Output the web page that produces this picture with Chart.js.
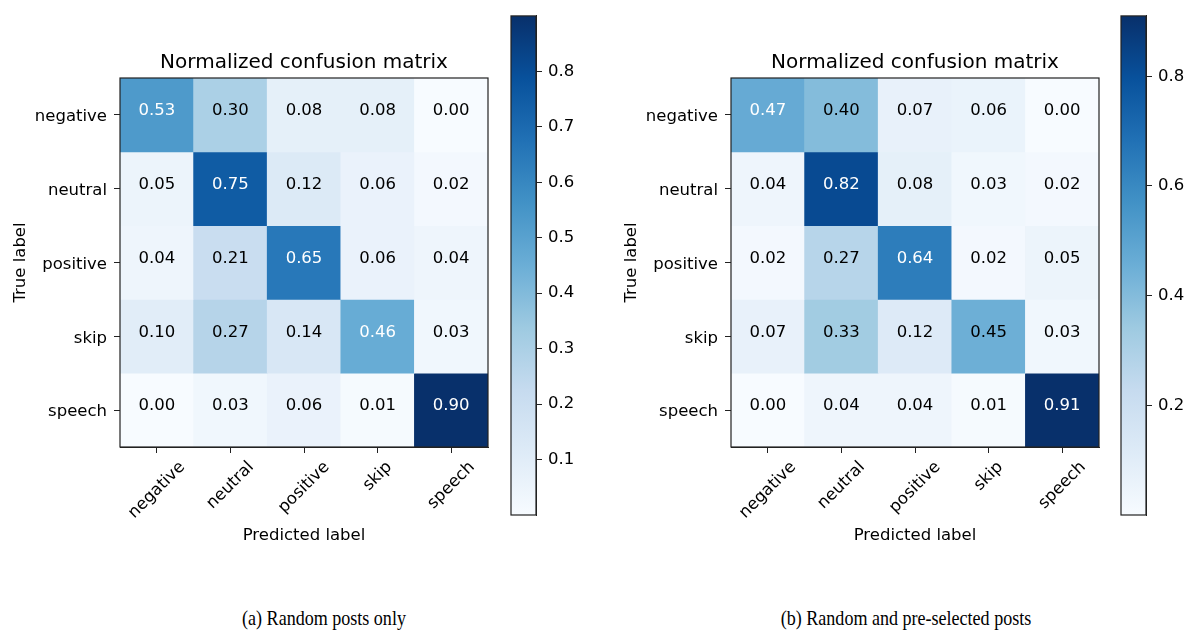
<!DOCTYPE html>
<html>
<head>
<meta charset="utf-8">
<script src="https://cdn.jsdelivr.net/npm/chart.js@4/dist/chart.umd.min.js"></script>
<style>
  body { margin: 0; background: #fff; width: 1192px; height: 632px; position: relative; overflow: hidden; }
  canvas { position: absolute; }
  .caption { position: absolute; top: 605px; font-family: 'Liberation Serif', serif; font-size: 22px; color: #000;
             white-space: nowrap; transform: translateX(-50%) scaleX(0.82); }
</style>
</head>
<body>
<canvas id="matA" style="left:7px;top:0" width="493" height="550"></canvas>
<canvas id="barA" style="left:500px;top:0" width="90" height="548"></canvas>
<canvas id="matB" style="left:618px;top:0" width="493" height="550"></canvas>
<canvas id="barB" style="left:1110px;top:0" width="82" height="548"></canvas>
<div class="caption" style="left:324px">(a) Random posts only</div>
<div class="caption" style="left:906px">(b) Random and pre-selected posts</div>

<script>
/**
 * Two normalized confusion matrices with colorbars
 */

const predLabels = ['negative', 'neutral', 'positive', 'skip', 'speech'];
const trueLabels = ['negative', 'neutral', 'positive', 'skip', 'speech'];

// rows = true label, columns = predicted label
const matrixA = [
    [0.53, 0.30, 0.08, 0.08, 0.00],
    [0.05, 0.75, 0.12, 0.06, 0.02],
    [0.04, 0.21, 0.65, 0.06, 0.04],
    [0.10, 0.27, 0.14, 0.46, 0.03],
    [0.00, 0.03, 0.06, 0.01, 0.90]
];
const matrixB = [
    [0.47, 0.40, 0.07, 0.06, 0.00],
    [0.04, 0.82, 0.08, 0.03, 0.02],
    [0.02, 0.27, 0.64, 0.02, 0.05],
    [0.07, 0.33, 0.12, 0.45, 0.03],
    [0.00, 0.04, 0.04, 0.01, 0.91]
];

const cbTicksA = [0.1, 0.2, 0.3, 0.4, 0.5, 0.6, 0.7, 0.8];
const cbTicksB = [0.2, 0.4, 0.6, 0.8];

const FONT = 'DejaVu Sans';
Chart.defaults.font.family = FONT;
Chart.defaults.color = '#000';
Chart.defaults.animation = false;

// matplotlib "Blues"
const blues = ['#f7fbff', '#deebf7', '#c6dbef', '#9ecae1', '#6baed6', '#4292c6', '#2171b5', '#08519c', '#08306b'];

function hexToRgb(h) {
    return [parseInt(h.slice(1, 3), 16), parseInt(h.slice(3, 5), 16), parseInt(h.slice(5, 7), 16)];
}

function bluesColor(t) {
    t = Math.max(0, Math.min(1, t));
    const pos = t * (blues.length - 1);
    const i = Math.min(Math.floor(pos), blues.length - 2);
    const f = pos - i;
    const a = hexToRgb(blues[i]), b = hexToRgb(blues[i + 1]);
    const c = a.map((v, k) => Math.round(v + (b[k] - v) * f));
    return 'rgb(' + c.join(',') + ')';
}

const boxPlugin = {
    id: 'box',
    afterDraw(chart) {
        const a = chart.chartArea, ctx = chart.ctx;
        ctx.save();
        ctx.strokeStyle = '#222';
        ctx.lineWidth = 1.2;
        ctx.strokeRect(a.left, a.top, a.right - a.left, a.bottom - a.top);
        ctx.restore();
    }
};

function makeMatrix(id, matrix) {
    const flat = matrix.flat();
    const vmin = Math.min(...flat), vmax = Math.max(...flat);
    const thresh = vmax / 2;

    const cellText = {
        id: 'cellText',
        afterDatasetsDraw(chart) {
            const ctx = chart.ctx;
            ctx.save();
            ctx.font = '16.5px "' + FONT + '"';
            ctx.textAlign = 'center';
            ctx.textBaseline = 'middle';
            chart.data.datasets.forEach((ds, r) => {
                chart.getDatasetMeta(r).data.forEach((bar, c) => {
                    const v = matrix[r][c];
                    const p = bar.getCenterPoint();
                    ctx.fillStyle = v > thresh ? '#fff' : '#000';
                    ctx.fillText(v.toFixed(2), p.x, p.y - 4);
                });
            });
            ctx.restore();
        }
    };

    const titleAndXLabels = {
        id: 'titleAndXLabels',
        afterDraw(chart) {
            const ctx = chart.ctx, a = chart.chartArea, xs = chart.scales.x;
            ctx.save();
            ctx.fillStyle = '#000';
            ctx.font = '20px "' + FONT + '"';
            ctx.textAlign = 'center';
            ctx.textBaseline = 'middle';
            ctx.fillText('Normalized confusion matrix', (a.left + a.right) / 2, 63);

            // rotated tick labels, centered on the tick like matplotlib rotation=45
            ctx.font = '16.5px "' + FONT + '"';
            predLabels.forEach((lab, i) => {
                const x = xs.getPixelForTick(i);
                const w = ctx.measureText(lab).width, h = 13;
                const y = a.bottom + 13 + (w + h) * Math.SQRT1_2 / 2;
                ctx.save();
                ctx.translate(x, y);
                ctx.rotate(-Math.PI / 4);
                ctx.fillText(lab, 0, 0);
                ctx.restore();
            });
            ctx.restore();
        }
    };

    const datasets = trueLabels.map((t, r) => ({
        label: t,
        data: predLabels.map(() => 1),
        backgroundColor: matrix[r].map(v => bluesColor((v - vmin) / (vmax - vmin))),
        borderWidth: 0,
        barPercentage: 1,
        categoryPercentage: 1
    }));

    new Chart(document.getElementById(id), {
        type: 'bar',
        data: { labels: predLabels, datasets: datasets },
        options: {
            responsive: false,
            layout: { padding: { top: 78, right: 12, left: 0, bottom: 0 } },
            plugins: { legend: { display: false }, tooltip: { enabled: false } },
            scales: {
                x: {
                    stacked: true,
                    grid: { display: true, drawOnChartArea: false, offset: false, tickLength: 6, color: '#222' },
                    border: { display: true, color: '#222' },
                    ticks: { display: false },
                    title: { display: true, text: 'Predicted label', font: { size: 16.5 }, color: '#000' },
                    afterFit(s) { s.height = 103; }
                },
                y: {
                    stacked: true,
                    reverse: true,
                    min: 0,
                    max: trueLabels.length,
                    afterBuildTicks(s) { s.ticks = trueLabels.map((_, i) => ({ value: i + 0.5 })); },
                    grid: { drawOnChartArea: false, tickLength: 6, color: '#222' },
                    border: { display: true, color: '#222' },
                    ticks: {
                        font: { size: 16.5 },
                        padding: 7,
                        labelOffset: 2,
                        color: '#000',
                        callback: v => trueLabels[Math.floor(v)]
                    },
                    title: { display: true, text: 'True label', font: { size: 16.5 }, color: '#000' },
                    afterFit(s) { s.width = 113; }
                }
            }
        },
        plugins: [cellText, titleAndXLabels, boxPlugin]
    });
}

function makeColorbar(id, matrix, tickVals, axisWidth) {
    const flat = matrix.flat();
    const vmin = Math.min(...flat), vmax = Math.max(...flat);

    new Chart(document.getElementById(id), {
        type: 'bar',
        data: {
            labels: [''],
            datasets: [{
                data: [[vmin, vmax]],
                backgroundColor(ctx) {
                    const a = ctx.chart.chartArea;
                    if (!a) return blues[4];
                    const g = ctx.chart.ctx.createLinearGradient(0, a.bottom, 0, a.top);
                    blues.forEach((c, i) => g.addColorStop(i / (blues.length - 1), c));
                    return g;
                },
                borderWidth: 0,
                barPercentage: 1,
                categoryPercentage: 1
            }]
        },
        options: {
            responsive: false,
            layout: { padding: { top: 10, bottom: 33, left: 11, right: 0 } },
            plugins: { legend: { display: false }, tooltip: { enabled: false } },
            scales: {
                x: { display: false },
                y: {
                    position: 'right',
                    min: vmin,
                    max: vmax,
                    afterBuildTicks(s) { s.ticks = tickVals.map(v => ({ value: v })); },
                    grid: { drawOnChartArea: false, tickLength: 6, color: '#222' },
                    border: { display: true, color: '#222' },
                    ticks: { font: { size: 16.5 }, padding: 6, color: '#000', callback: v => v.toFixed(1) },
                    afterFit(s) { s.width = axisWidth; }
                }
            }
        },
        plugins: [boxPlugin]
    });
}

makeMatrix('matA', matrixA);
makeColorbar('barA', matrixA, cbTicksA, 54);
makeMatrix('matB', matrixB);
makeColorbar('barB', matrixB, cbTicksB, 46);
</script>
</body>
</html>
